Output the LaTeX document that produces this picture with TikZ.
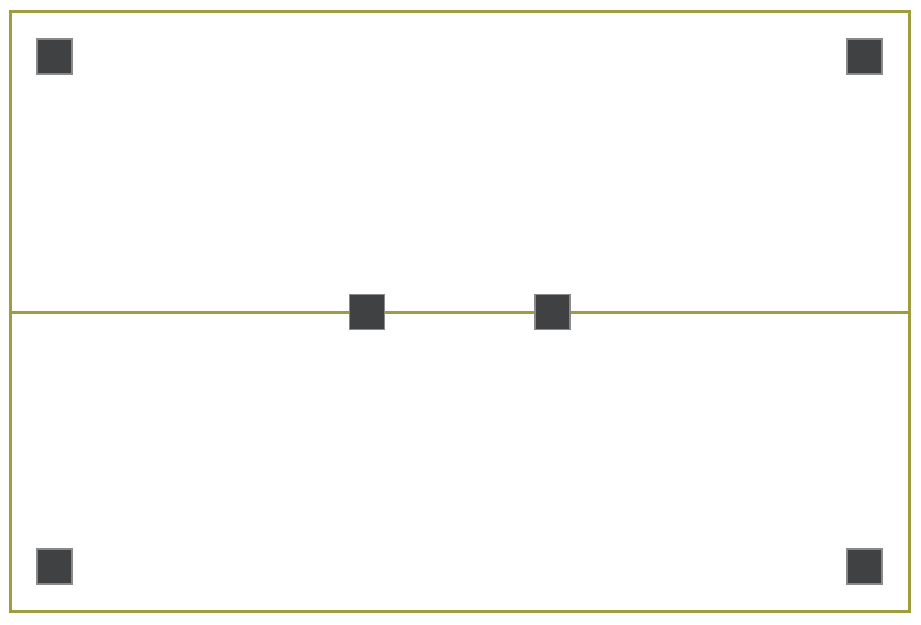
\documentclass[tikz,border=0pt]{standalone}
\definecolor{olive}{HTML}{A09C40}
\definecolor{sqfill}{HTML}{404142}
\definecolor{sqedge}{HTML}{8A8A8A}
\begin{document}
\begin{tikzpicture}[x=1pt,y=-1pt,
  frame/.style={draw=olive,line width=3pt},
  pad/.style={draw=sqedge,fill=sqfill,line width=1.5pt,minimum size=35pt,inner sep=0pt,outer sep=0pt}]
\useasboundingbox (0,0) rectangle (921,624);
\fill[white] (0,0) rectangle (921,624);
\coordinate (tl) at (10,11.5);
\coordinate (br) at (909.7,611);
\coordinate (ml) at (10,312.3);
\coordinate (mr) at (909.7,312.3);
\draw[frame] (tl) rectangle (br);
\draw[frame] (ml) -- (mr);
\node[pad] (p1) at (54.7,56.7) {};
\node[pad] (p2) at (864.7,56.7) {};
\node[pad] (p3) at (367.2,312) {};
\node[pad] (p4) at (552.4,312) {};
\node[pad] (p5) at (54.7,566.7) {};
\node[pad] (p6) at (864.7,566.7) {};
\end{tikzpicture}
\end{document}
